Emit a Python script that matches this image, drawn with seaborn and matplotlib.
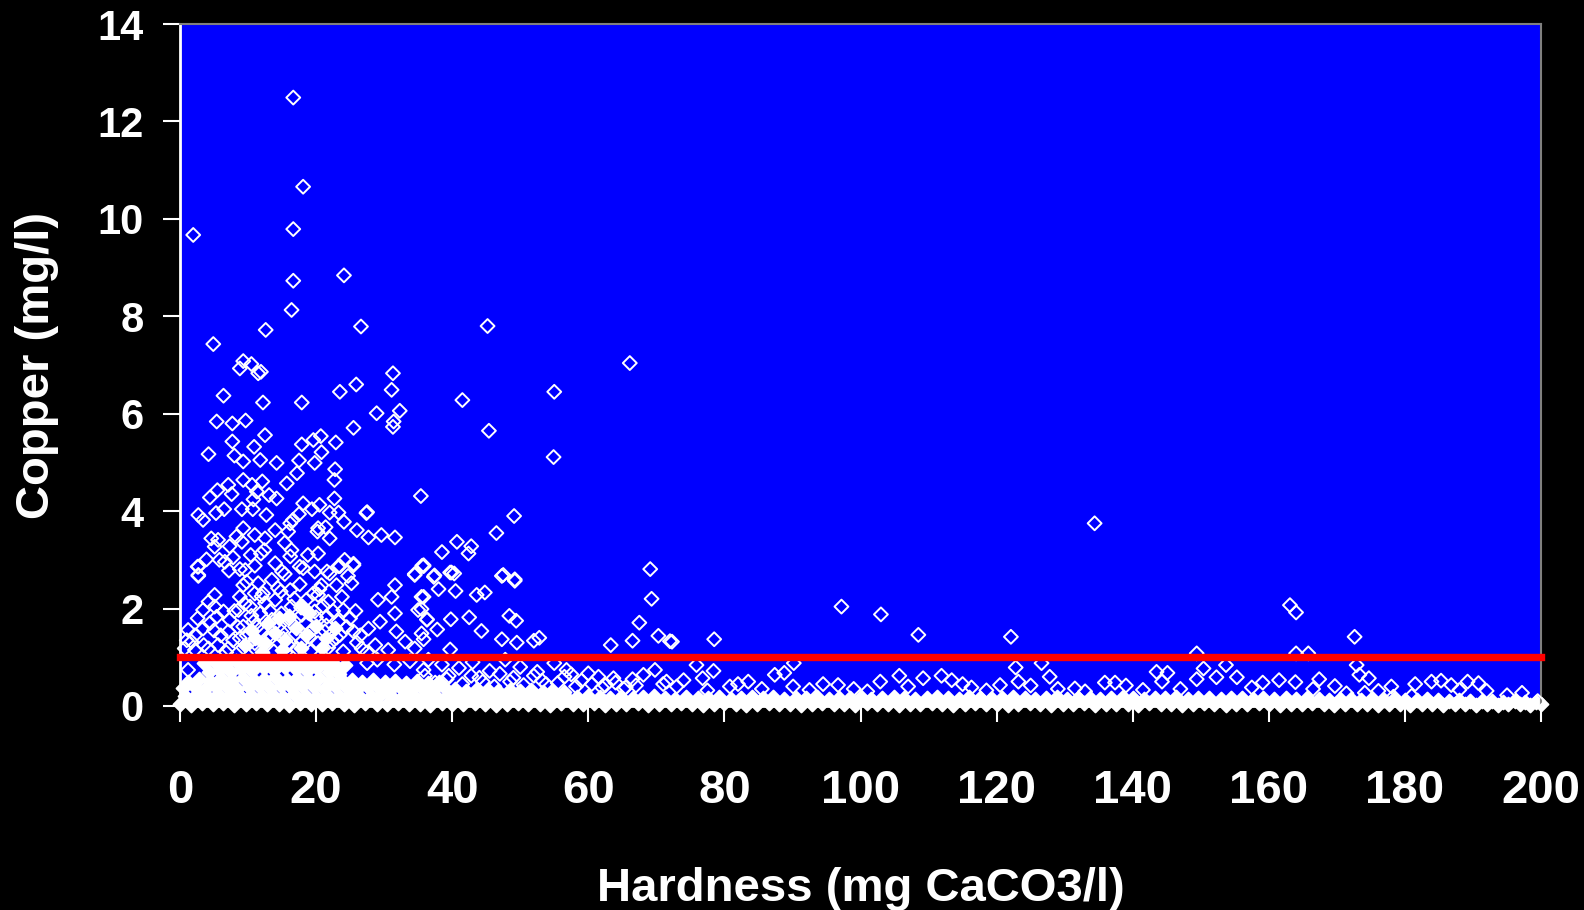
import matplotlib
matplotlib.use("Agg")
import matplotlib.pyplot as plt
import pandas as pd
import seaborn as sns

# ---------------- data (hardness mg CaCO3/l, copper mg/l) ----------------
x_ticks = [0, 20, 40, 60, 80, 100, 120, 140, 160, 180, 200]
y_ticks = [0, 2, 4, 6, 8, 10, 12, 14]
threshold = 1.0

# isolated / upper samples
high_pts = [
    (16.65, 12.49), (18.1, 10.66), (1.95, 9.67), (16.65, 9.79), (16.65, 8.73), (24.1, 8.84),
    (16.4, 8.13), (12.6, 7.72), (26.6, 7.79), (45.2, 7.80), (4.9, 7.43), (66.1, 7.04),
    (9.3, 7.08), (10.5, 7.02), (8.8, 6.93), (11.5, 6.83), (11.9, 6.86), (31.3, 6.83),
    (6.4, 6.37), (12.2, 6.23), (17.9, 6.23), (23.5, 6.45), (25.9, 6.60), (31.1, 6.49),
    (41.5, 6.28), (55.0, 6.45), (28.9, 6.01), (32.3, 6.06), (5.4, 5.84), (7.7, 5.80),
    (9.65, 5.86), (12.5, 5.56), (25.5, 5.71), (31.4, 5.84), (31.3, 5.73), (45.4, 5.65),
    (54.9, 5.11), (134.4, 3.75),
    (4.2, 5.17), (7.7, 5.43), (10.9, 5.32), (8.0, 5.14), (9.3, 5.02), (11.8, 5.05),
    (14.2, 4.99), (17.9, 5.37), (19.6, 5.46), (20.7, 5.54), (22.9, 5.41), (20.8, 5.21),
    (17.5, 5.04), (19.8, 4.99), (22.8, 4.86), (22.7, 4.64), (17.2, 4.78), (15.7, 4.57),
    (9.3, 4.64), (12.1, 4.61), (10.6, 4.54), (7.1, 4.54), (5.5, 4.43), (4.4, 4.28),
    (7.6, 4.35), (11.3, 4.40), (13.1, 4.33), (14.2, 4.26), (10.8, 4.24), (22.7, 4.26),
    (35.4, 4.31), (18.1, 4.16), (20.5, 4.13), (9.1, 4.04), (6.5, 4.04), (5.3, 3.96),
    (2.7, 3.92), (3.4, 3.82), (10.7, 4.04), (12.7, 3.92), (19.4, 4.04), (22.0, 3.97),
    (23.3, 3.97), (24.1, 3.78), (27.4, 3.96), (27.5, 3.98), (26.0, 3.61), (27.7, 3.46),
    (29.6, 3.51), (31.6, 3.46), (49.1, 3.90), (46.5, 3.55), (40.7, 3.37), (42.8, 3.28),
    (42.4, 3.13), (38.5, 3.16), (35.6, 2.88), (34.5, 2.71), (37.4, 2.68), (39.9, 2.74),
    (47.5, 2.69), (49.2, 2.60), (16.6, 3.82), (16.2, 3.75), (17.5, 3.94), (20.3, 3.65),
    (21.4, 3.67), (20.2, 3.58), (22.0, 3.44), (24.2, 3.00), (25.5, 2.92), (23.3, 2.87),
    (21.6, 2.76), (20.3, 3.13), (18.8, 3.10), (16.2, 3.07), (15.4, 3.35), (15.9, 3.58),
    (14.0, 3.61), (12.5, 3.44), (11.0, 3.51), (9.3, 3.65), (8.3, 3.48), (9.1, 3.37),
    (7.3, 3.28), (5.1, 3.27), (4.6, 3.44), (5.6, 3.41), (3.9, 3.01), (2.6, 2.86),
    (2.7, 2.69), (5.8, 3.00), (6.6, 2.96), (7.8, 3.05), (10.4, 3.10), (11.9, 3.13),
    (12.4, 3.20), (11.0, 2.88), (9.6, 2.79), (14.0, 2.93), (15.0, 2.76), (17.6, 2.86),
    (16.4, 3.20),
]

# samples between about 1 and 3 mg/l
mid_pts = [
    (2.7, 2.86), (2.7, 2.67), (7.2, 2.78), (8.8, 2.81), (9.8, 2.55), (9.3, 2.48), (11.5, 2.52),
    (13.5, 2.59), (15.4, 2.71), (18.1, 2.83), (19.8, 2.76), (22.0, 2.72), (23.5, 2.87),
    (25.5, 2.89), (24.7, 2.67), (25.2, 2.52), (23.0, 2.48), (20.8, 2.48), (19.6, 2.31),
    (17.6, 2.50), (16.2, 2.38), (14.4, 2.42), (12.2, 2.31), (11.0, 2.31), (8.8, 2.24),
    (5.1, 2.28), (4.2, 2.14), (3.4, 1.97), (2.6, 1.80), (3.4, 1.59), (1.2, 1.56), (1.7, 1.32),
    (1.0, 1.35), (0.7, 1.18), (2.2, 1.15), (5.1, 2.04), (6.4, 1.94), (5.4, 1.83), (4.4, 1.70),
    (7.3, 1.77), (7.1, 1.53), (5.6, 1.25), (8.6, 1.97), (10.3, 2.04), (12.5, 2.11), (14.0, 2.18),
    (11.8, 1.90), (10.8, 1.73), (9.3, 1.63), (8.8, 1.39), (12.0, 1.53), (13.5, 1.77), (14.9, 1.90),
    (16.4, 2.04), (18.6, 2.18), (20.3, 2.28), (21.8, 2.14), (23.8, 2.24), (24.0, 1.97),
    (25.0, 1.80), (23.3, 1.73), (21.6, 1.83), (19.8, 1.94), (17.9, 1.87), (16.9, 1.63),
    (14.9, 1.53), (13.5, 1.42), (19.4, 1.56), (21.3, 1.53), (23.5, 1.46), (25.5, 1.53),
    (22.3, 1.32), (20.3, 1.29), (17.9, 1.32), (15.9, 1.25), (11.0, 1.29), (9.3, 1.20),
    (7.1, 1.18), (4.2, 1.18), (29.1, 2.18), (31.1, 2.24), (31.6, 2.48), (34.5, 2.69),
    (35.8, 2.89), (35.5, 2.24), (35.0, 1.97), (36.3, 1.77), (29.4, 1.73), (31.6, 1.90),
    (27.7, 1.59), (31.8, 1.53), (33.1, 1.32), (35.5, 1.49), (28.7, 1.25), (26.7, 1.18),
    (30.6, 1.15), (34.5, 1.18),
    (6.0, 1.45), (7.8, 1.35), (8.5, 1.62), (9.8, 1.45), (10.5, 1.85), (11.3, 1.62), (12.8, 1.40),
    (13.2, 1.95), (14.6, 1.65), (15.2, 1.38), (16.0, 1.80), (17.0, 1.48), (17.8, 2.02),
    (18.5, 1.70), (19.0, 1.42), (20.0, 1.82), (21.0, 2.05), (21.5, 1.65), (22.5, 1.95),
    (23.0, 1.40), (24.5, 1.62), (25.8, 1.95), (26.5, 1.45), (8.0, 1.95), (9.5, 2.10),
    (12.0, 2.25), (14.8, 2.35), (16.8, 2.20), (18.8, 1.92), (20.5, 2.40), (11.2, 1.15),
    (13.8, 1.12), (15.5, 1.10), (17.2, 1.18), (19.2, 1.12), (21.8, 1.20), (24.0, 1.12),
    (26.0, 1.30), (27.5, 1.10), (6.8, 1.10), (5.0, 1.55), (3.5, 1.25), (2.2, 1.45),
    (35.8, 2.87), (37.3, 2.65), (39.7, 2.74), (40.3, 2.72), (38.0, 2.40), (40.5, 2.36),
    (43.6, 2.28), (44.8, 2.33), (47.3, 2.67), (49.2, 2.57), (35.8, 2.24), (35.5, 1.99),
    (36.3, 1.78), (37.8, 1.57), (39.8, 1.78), (42.5, 1.82), (44.3, 1.54), (48.4, 1.85),
    (49.4, 1.75), (47.3, 1.37), (49.5, 1.30), (52.0, 1.34), (52.8, 1.40), (35.8, 1.37),
    (39.7, 1.16), (69.1, 2.81), (69.3, 2.20), (67.5, 1.71), (70.3, 1.44), (72.0, 1.33),
    (66.5, 1.34), (63.3, 1.25), (78.5, 1.37), (97.2, 2.04), (103.0, 1.88), (108.5, 1.46),
    (122.1, 1.42), (163.1, 2.07), (164.0, 1.92), (172.6, 1.42), (149.4, 1.08), (164.0, 1.08),
    (165.8, 1.08),
]

# scattered samples just above the dense band
low_pts = [
    (1.2, 0.74), (35.8, 0.74), (63.7, 0.57), (68.1, 0.64), (69.8, 0.74), (56.8, 0.74),
    (60.0, 0.67), (36.5, 0.95), (38.5, 0.85), (41.0, 0.78), (43.0, 0.90), (45.5, 0.72),
    (47.8, 0.95), (50.0, 0.80), (52.5, 0.70), (55.0, 0.88), (57.5, 0.65), (59.0, 0.52),
    (61.5, 0.60), (64.0, 0.48), (66.5, 0.55), (29.0, 0.95), (31.5, 0.85), (33.8, 0.92),
    (27.5, 0.88), (44.0, 0.58), (48.5, 0.50), (53.8, 0.45), (39.5, 0.62),
    (36.0, 0.62), (37.5, 0.48), (39.2, 0.55), (41.5, 0.45), (42.8, 0.62), (44.5, 0.50),
    (46.2, 0.40), (47.0, 0.66), (49.0, 0.58), (50.5, 0.43), (52.0, 0.62), (53.2, 0.52),
    (55.5, 0.47), (56.5, 0.60), (58.2, 0.40), (60.5, 0.45), (62.0, 0.38), (65.2, 0.35),
    (67.0, 0.42), (71.5, 0.50), (73.0, 0.40),
    (72.3, 1.32), (75.9, 0.84), (78.4, 0.72), (76.8, 0.57), (87.4, 0.64), (88.8, 0.68),
    (90.2, 0.88), (122.8, 0.79), (126.6, 0.88), (83.5, 0.50), (90.1, 0.40), (96.7, 0.43),
    (102.9, 0.50), (105.7, 0.62), (109.2, 0.57), (111.9, 0.62), (113.4, 0.53), (127.8, 0.60),
    (131.5, 0.36), (74.0, 0.53), (80.8, 0.40), (116.3, 0.38), (120.5, 0.43), (123.2, 0.50),
    (153.7, 0.84), (150.4, 0.77), (172.9, 0.84), (173.3, 0.64), (174.7, 0.57), (143.5, 0.70),
    (145.1, 0.68), (144.3, 0.50), (149.4, 0.55), (152.3, 0.59), (155.3, 0.59), (159.1, 0.48),
    (161.5, 0.53), (163.9, 0.49), (167.4, 0.55), (169.7, 0.41), (135.9, 0.48), (137.4, 0.48),
    (183.9, 0.50), (185.3, 0.52), (186.8, 0.43), (189.2, 0.50), (190.8, 0.47), (192.0, 0.31),
    (197.2, 0.27), (181.0, 0.21), (178.3, 0.19), (176.1, 0.31), (174.1, 0.27), (171.4, 0.26),
    (62.5, 0.42), (65.5, 0.38), (71.0, 0.45), (77.5, 0.32), (82.0, 0.45), (85.5, 0.35),
    (92.5, 0.33), (94.5, 0.45), (99.0, 0.35), (101.0, 0.30), (107.0, 0.40), (115.0, 0.45),
    (118.5, 0.32), (125.0, 0.42), (129.0, 0.35), (133.0, 0.30), (139.0, 0.42), (141.5, 0.33),
    (147.0, 0.35), (157.5, 0.38), (166.5, 0.35), (178.0, 0.40), (181.5, 0.45), (188.0, 0.33),
    (195.0, 0.22), (199.5, 0.10),
]

# very dense low band (thousands of overlapping samples) - bottom row
band_a = [
    (0.0, .05), (1.6, .03), (3.2, .06), (4.9, .04), (6.4, .07), (8.0, .03), (9.7, .05), (11.2, .06), (12.8, .04), (14.5, .05),
    (16.0, .03), (17.6, .06), (19.3, .05), (20.8, .04), (22.4, .07), (24.1, .05), (25.6, .03), (27.2, .06), (28.9, .04), (30.4, .05),
    (32.0, .06), (33.7, .04), (35.2, .05), (36.8, .03), (38.5, .06), (40.0, .05), (41.6, .04), (43.3, .07), (44.8, .05), (46.4, .03),
    (48.1, .05), (49.6, .06), (51.2, .04), (52.9, .05), (54.4, .03), (56.0, .06), (57.7, .04), (59.2, .05), (60.8, .06), (62.5, .03),
    (64.0, .05), (65.6, .04), (67.3, .06), (68.8, .03), (70.4, .05), (72.1, .04), (73.6, .06), (75.2, .05), (76.9, .03), (78.4, .04),
    (80.0, .06), (81.7, .05), (83.2, .03), (84.8, .04), (86.5, .06), (88.0, .05), (89.6, .04), (91.3, .03), (92.8, .05), (94.4, .06),
    (96.1, .04), (97.6, .05), (99.2, .03), (100.9, .06), (102.4, .04), (104.0, .05), (105.7, .03), (107.2, .05), (108.8, .04), (110.5, .06),
    (112.0, .05), (113.6, .03), (115.3, .04), (116.8, .06), (118.4, .05), (120.1, .04), (121.6, .03), (123.2, .05), (124.9, .06), (126.4, .04),
    (128.0, .03), (129.7, .05), (131.2, .04), (132.8, .06), (134.5, .03), (136.0, .05), (137.6, .04), (139.3, .05), (140.8, .03), (142.4, .06),
    (144.1, .04), (145.6, .05), (147.2, .03), (148.9, .05), (150.4, .06), (152.0, .04), (153.7, .03), (155.2, .05), (156.8, .04), (158.5, .06),
    (160.0, .05), (161.6, .03), (163.3, .04), (164.8, .05), (166.4, .06), (168.1, .04), (169.6, .03), (171.2, .05), (172.9, .04), (174.4, .05),
    (176.0, .03), (177.7, .04), (179.2, .05), (180.8, .03), (182.5, .04), (184.0, .05), (185.6, .03), (187.3, .04), (188.8, .05), (190.4, .03),
    (192.1, .04), (193.6, .03), (195.2, .05), (196.9, .04), (198.4, .03), (200.0, .05),
]

# dense band - second row
band_b = [
    (0.8, .20), (2.4, .22), (4.1, .18), (5.6, .24), (7.2, .21), (8.9, .19), (10.4, .23), (12.0, .20), (13.7, .22), (15.2, .18),
    (16.8, .24), (18.5, .21), (20.0, .19), (21.6, .23), (23.3, .20), (24.8, .22), (26.4, .18), (28.1, .21), (29.6, .24), (31.2, .19),
    (32.9, .22), (34.4, .20), (36.0, .23), (37.7, .18), (39.2, .21), (40.8, .19), (42.5, .22), (44.0, .20), (45.6, .18), (47.3, .21),
    (48.8, .19), (50.4, .22), (52.1, .18), (53.6, .20), (55.2, .21), (56.9, .17), (58.4, .19), (60.0, .20), (61.7, .18), (63.2, .17),
    (64.8, .19), (66.5, .16), (68.0, .18), (69.6, .20), (71.3, .17), (72.8, .15), (74.4, .19), (76.1, .17), (77.6, .16), (79.2, .18),
    (80.9, .15), (82.4, .17), (84.0, .19), (85.7, .16), (87.2, .18), (88.8, .15), (90.5, .17), (92.0, .16), (93.6, .18), (95.3, .15),
    (96.8, .17), (98.4, .16), (100.1, .18), (101.6, .15), (103.2, .17), (104.9, .19), (106.4, .16), (108.0, .15), (109.7, .17), (111.2, .18),
    (112.8, .16), (114.5, .15), (116.0, .18), (117.6, .17), (119.3, .15), (120.8, .16), (122.4, .18), (124.1, .17), (125.6, .15), (127.2, .16),
    (128.9, .18), (130.4, .15), (132.0, .17), (133.7, .16), (135.2, .15), (136.8, .17), (138.5, .18), (140.0, .16), (141.6, .15), (143.3, .17),
    (144.8, .16), (146.4, .18), (148.1, .15), (149.6, .17), (151.2, .16), (152.9, .15), (154.4, .17), (156.0, .16), (157.7, .15), (159.2, .17),
    (160.8, .15), (162.5, .16), (164.0, .14), (165.6, .16), (167.3, .15), (168.8, .13), (170.4, .15), (172.1, .14), (173.6, .13), (175.2, .14),
    (176.9, .13), (178.4, .14), (180.0, .12), (181.7, .13), (183.2, .14), (184.8, .12), (186.5, .11), (188.0, .12), (189.6, .10), (191.3, .11),
    (192.8, .10), (194.4, .09), (196.1, .10), (197.6, .08), (199.2, .09),
]

# dense band - upper rows at low hardness
band_c = [
    (0.4, .36), (2.0, .40), (3.6, .33), (5.3, .38), (6.8, .42), (8.4, .35), (10.1, .39), (11.6, .41), (13.2, .36), (14.9, .40),
    (16.4, .37), (18.0, .42), (19.7, .38), (21.2, .35), (22.8, .40), (24.5, .37), (26.0, .34), (27.6, .39), (29.3, .36), (30.8, .33),
    (32.4, .38), (34.1, .35), (35.6, .37), (37.2, .32), (38.9, .36), (40.4, .34), (42.0, .31), (43.7, .35), (45.2, .33), (46.8, .30),
    (48.5, .33), (50.0, .30), (51.6, .32), (53.3, .29), (54.8, .31), (56.4, .28),
]
band_d = [
    (1.2, .50), (2.8, .55), (4.4, .52), (6.1, .57), (7.6, .53), (9.2, .58), (10.9, .54), (12.4, .56), (14.0, .59), (15.7, .53),
    (17.2, .57), (18.8, .55), (20.5, .58), (22.0, .52), (23.6, .56), (25.3, .54), (26.8, .50), (28.4, .53), (30.1, .49), (31.6, .52),
    (33.2, .48), (34.9, .51), (36.4, .47), (38.0, .49),
]
band_e = [
    (4.2, .70), (5.8, .74), (7.5, .69), (9.0, .76), (10.6, .72), (12.3, .78), (13.8, .73), (15.4, .80),
    (17.1, .75), (18.6, .71), (20.2, .77), (21.9, .70), (23.4, .66),
]
band_f = [
    (3.5, .88), (5.1, .91), (6.7, .86), (8.3, .92), (9.9, .88), (11.5, .90), (13.1, .87), (14.7, .93),
    (16.3, .89), (17.9, .91), (19.5, .86), (21.1, .90), (22.7, .87), (24.3, .84),
]
# overlapping core of the 1-2 mg/l cluster
core_pts = [
    (9.5, 1.25), (11.0, 1.40), (12.5, 1.30), (14.0, 1.50), (15.5, 1.35), (17.0, 1.60), (18.5, 1.45),
    (20.0, 1.65), (21.5, 1.40), (13.0, 1.70), (16.0, 1.85), (19.0, 1.90), (10.5, 1.55), (17.8, 1.20),
    (15.0, 1.15), (20.8, 1.20), (22.8, 1.60), (12.0, 1.10), (14.5, 1.80), (18.0, 2.05),
]

# ---------------- figure ----------------
sns.set_theme(style="white")
plt.rcParams['font.family'] = ['Liberation Sans', 'DejaVu Sans']
plt.rcParams['font.weight'] = 'bold'

fig = plt.figure(figsize=(15.84, 9.10), dpi=100, facecolor='black')
ax = fig.add_axes([0.1136, 0.2242, 0.8593, 0.7494])
ax.set_facecolor('#0000FF')

dense = pd.DataFrame(band_a + band_b + band_c + band_d + band_e + band_f + core_pts,
                     columns=['hardness', 'copper'])
sparse = pd.DataFrame(low_pts + mid_pts + high_pts, columns=['hardness', 'copper'])

marker_area = 50
sns.scatterplot(data=dense, x='hardness', y='copper', marker='D', s=marker_area,
                color='white', edgecolor='white', linewidth=1.4,
                clip_on=False, zorder=2, legend=False, ax=ax)
sns.scatterplot(data=sparse, x='hardness', y='copper', marker='D', s=marker_area,
                color='white', facecolor='none', edgecolor='white', linewidth=1.4,
                clip_on=False, zorder=3, legend=False, ax=ax)
for coll in ax.collections[1:]:
    coll.set_facecolor('none')

ax.axhline(threshold, color='#FF0000', lw=5.3, solid_capstyle='projecting',
           clip_on=False, zorder=5)

ax.set_xlim(0, 200)
ax.set_ylim(0, 14)
ax.set_xticks(x_ticks)
ax.set_yticks(y_ticks)
ax.set_xticklabels([str(v) for v in x_ticks], fontsize=34, fontweight='bold', color='white')
ax.set_yticklabels([str(v) for v in y_ticks], fontsize=30, fontweight='bold', color='white')
ax.tick_params(axis='x', direction='out', length=11.5, width=1.5, color='white', pad=34, bottom=True)
ax.tick_params(axis='y', direction='out', length=12, width=1.5, color='white', pad=14, left=True)

ax.set_xlabel('Hardness (mg CaCO3/l)', fontsize=34, fontweight='bold', color='white', labelpad=39)
ax.set_ylabel('Copper (mg/l)', fontsize=34, fontweight='bold', color='white', labelpad=28)

for side in ['left', 'bottom']:
    ax.spines[side].set_color('white')
    ax.spines[side].set_linewidth(2)
for side in ['top', 'right']:
    ax.spines[side].set_color('#808080')
    ax.spines[side].set_linewidth(1.5)
ax.grid(False)

fig.savefig('out.png', dpi=100, facecolor='black')
